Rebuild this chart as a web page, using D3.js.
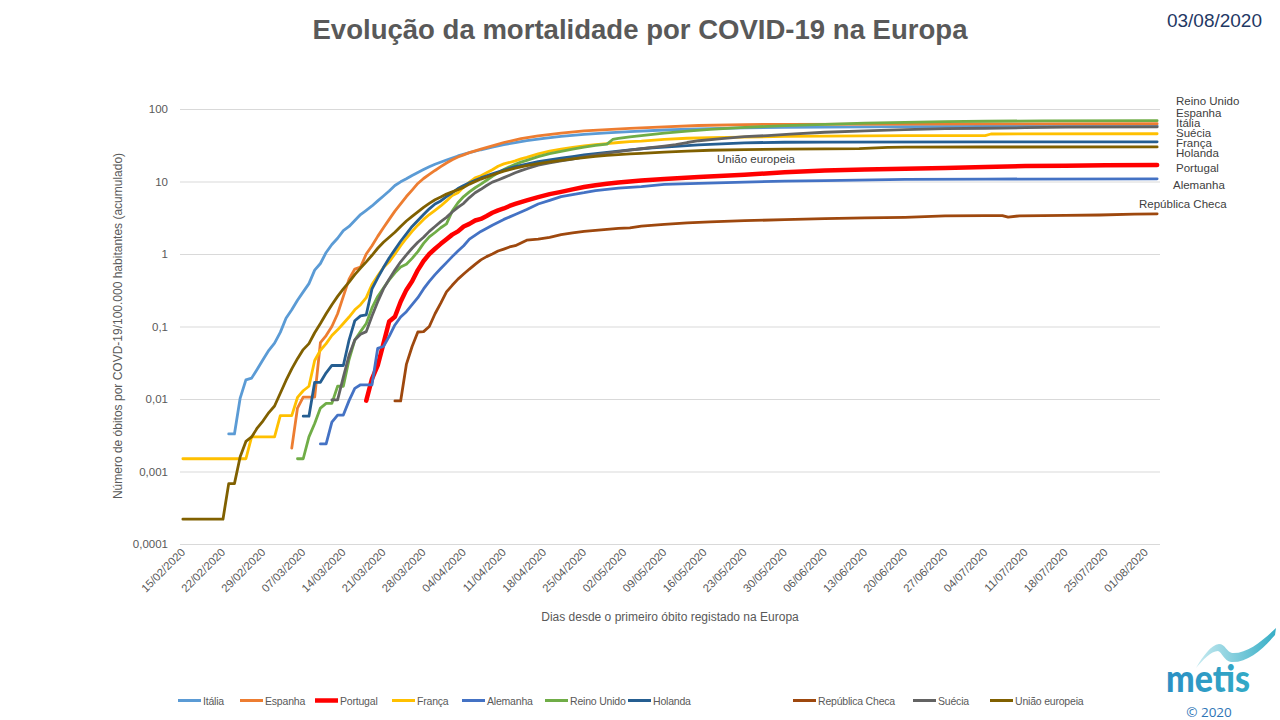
<!DOCTYPE html>
<html><head><meta charset="utf-8">
<script src="https://cdn.jsdelivr.net/npm/d3@7"></script>
<style>
html,body{margin:0;padding:0;background:#fff;}
svg{display:block;font-family:"Liberation Sans",Arial,sans-serif;}
</style></head><body>
<svg id="chart" width="1280" height="720"></svg>
<script>
// ---------- texts ----------
const title = "Evolução da mortalidade por COVID-19 na Europa";
const dateStamp = "03/08/2020";
const yTitle = "Número de óbitos por COVD-19/100.000 habitantes (acumulado)";
const xTitle = "Dias desde o primeiro óbito registado na Europa";
const euLabel = "União europeia";
const firstDay = "15/02/2020";
const lastDayIndex = 170;          // 03/08/2020
const xTickStep = 7;               // one label per week
const yTickValues = [0.0001, 0.001, 0.01, 0.1, 1, 10, 100];
const yTickLabels = ["0,0001", "0,001", "0,01", "0,1", "1", "10", "100"];
const seriesNames = ["Itália","Espanha","Portugal","França","Alemanha","Reino Unido","Holanda","República Checa","Suécia","União europeia"];
const endLabels = ["Reino Unido","Espanha","Itália","Suécia","França","Holanda","Portugal","Alemanha","República Checa"];

// ---------- data: [days since 15/02/2020, deaths per 100 000 inhabitants] ----------
const italia = [[8,0.0033],[9,0.0033],[10,0.0103],[11,0.0184],[12,0.0194],[13,0.026],[14,0.035],[15,0.047],[16,0.059],[17,0.083],[18,0.13],[19,0.17],[20,0.23],[21,0.30],[22,0.39],[23,0.6],[24,0.74],[25,1.05],[26,1.35],[27,1.65],[28,2.1],[29,2.4],[30,2.9],[31,3.5],[32,4.0],[33,4.6],[34,5.4],[35,6.3],[36,7.4],[37,8.8],[38,9.9],[39,10.9],[40,12.1],[41,13.3],[42,14.6],[43,16.0],[44,17.3],[46,19.8],[48,22.5],[50,25.0],[52,27.4],[54,29.7],[56,32.2],[58,34.3],[60,36.5],[63,39.4],[66,42],[70,44.8],[74,46.8],[78,48.6],[84,51.3],[90,53.3],[98,54.9],[105,55.8],[112,56.4],[126,57.2],[140,57.7],[154,58.1],[170,58.4]];
const espanha = [[19,0.0021],[20,0.0075],[21,0.0106],[22,0.0106],[23,0.0106],[24,0.06],[25,0.075],[26,0.1],[27,0.15],[28,0.26],[29,0.45],[30,0.62],[31,0.66],[32,1.0],[33,1.3],[34,1.75],[35,2.3],[36,3.0],[37,3.9],[38,4.9],[39,6.2],[40,7.6],[41,9.4],[42,11.0],[43,12.5],[44,14.2],[45,16.0],[46,18.0],[47,20.0],[48,21.8],[49,23.3],[50,25.0],[52,28.0],[54,31.0],[56,34.5],[59,39.0],[62,42.7],[66,46.5],[70,49.8],[74,52.0],[78,54.0],[84,56.8],[90,59.2],[98,61.0],[105,61.5],[126,61.8],[140,62.2],[170,62.6]];
const portugal = [[32,0.0095],[33,0.019],[34,0.029],[35,0.058],[36,0.117],[37,0.136],[38,0.22],[39,0.32],[40,0.42],[41,0.6],[42,0.8],[43,1.0],[44,1.18],[45,1.38],[46,1.6],[47,1.85],[48,2.05],[49,2.4],[50,2.6],[51,2.9],[52,3.05],[53,3.35],[54,3.7],[55,4.0],[56,4.25],[57,4.6],[58,4.9],[59,5.2],[60,5.5],[62,6.1],[64,6.7],[66,7.2],[68,7.8],[70,8.4],[72,8.9],[74,9.3],[76,9.7],[78,10.0],[80,10.3],[84,10.8],[90,11.5],[98,12.4],[105,13.4],[112,14.2],[119,14.6],[126,15.0],[133,15.3],[140,15.8],[147,16.3],[154,16.5],[161,16.7],[170,16.9]];
const franca = [[0,0.0015],[11,0.0015],[12,0.003],[16,0.003],[17,0.0059],[19,0.0059],[20,0.0105],[21,0.013],[22,0.015],[23,0.034],[24,0.047],[25,0.058],[26,0.075],[27,0.09],[28,0.11],[29,0.135],[30,0.17],[31,0.2],[32,0.25],[33,0.38],[34,0.5],[35,0.65],[36,0.78],[37,1.0],[38,1.3],[39,1.65],[40,2.05],[41,2.5],[42,3.0],[43,3.5],[44,4.0],[45,4.6],[46,5.4],[47,6.4],[48,7.0],[49,8.4],[50,9.8],[51,11.2],[52,12.0],[53,13.2],[54,14.5],[55,16.2],[56,17.5],[57,18.3],[58,19.3],[59,20.5],[60,21.5],[62,24.0],[64,26.2],[66,28.0],[68,29.6],[70,31.0],[72,32.2],[74,33.3],[76,34.5],[78,35.4],[80,36.0],[84,38.0],[88,39.5],[92,40.2],[98,41.0],[105,41.8],[112,42.2],[126,42.8],[140,43.0],[141,45.2],[170,45.6]];
const alemanha = [[24,0.0024],[25,0.0024],[26,0.0048],[27,0.006],[28,0.006],[29,0.0095],[30,0.014],[31,0.0157],[32,0.0157],[33,0.0157],[34,0.05],[35,0.053],[36,0.073],[37,0.105],[38,0.135],[39,0.16],[40,0.2],[41,0.25],[42,0.33],[43,0.42],[44,0.52],[45,0.63],[46,0.76],[47,0.92],[48,1.1],[49,1.3],[50,1.6],[52,2.05],[54,2.5],[56,3.0],[58,3.5],[60,4.1],[62,4.9],[64,5.5],[66,6.2],[68,6.6],[70,7.0],[72,7.5],[74,7.8],[76,8.1],[78,8.3],[80,8.5],[84,9.1],[90,9.4],[98,9.8],[105,10.1],[112,10.3],[126,10.7],[140,10.8],[170,10.9]];
const reinoUnido = [[20,0.0015],[21,0.0015],[22,0.003],[23,0.0046],[24,0.0075],[25,0.0087],[26,0.0087],[27,0.015],[28,0.015],[29,0.035],[30,0.065],[31,0.085],[32,0.11],[33,0.18],[34,0.26],[35,0.34],[36,0.44],[37,0.55],[38,0.66],[39,0.72],[40,0.87],[41,1.08],[42,1.4],[43,1.72],[44,1.98],[45,2.3],[46,2.6],[47,3.9],[48,5.1],[49,6.2],[50,7.2],[51,8.2],[52,9.2],[53,10.4],[54,11.8],[55,13.2],[56,14.6],[57,16.0],[58,17.2],[59,18.5],[60,19.6],[62,22.0],[64,24.2],[66,26.0],[68,28.0],[70,29.8],[72,31.5],[74,32.8],[75,38.0],[76,39.3],[78,41.3],[80,43.0],[84,46.5],[88,49.5],[92,52.5],[98,55.8],[105,59.0],[112,61.5],[119,63.8],[126,65.5],[133,67.0],[140,67.8],[150,68.6],[170,69.0]];
const holanda = [[21,0.0058],[22,0.0058],[23,0.017],[24,0.017],[25,0.023],[26,0.029],[27,0.029],[28,0.029],[29,0.065],[30,0.12],[31,0.14],[32,0.145],[33,0.33],[34,0.47],[35,0.65],[36,0.88],[37,1.15],[38,1.5],[39,1.9],[40,2.4],[41,2.9],[42,3.5],[43,4.2],[44,4.9],[45,5.4],[46,6.2],[47,7.0],[48,8.0],[49,8.8],[50,9.6],[51,10.4],[52,11.2],[54,12.8],[56,14.4],[58,16.0],[60,17.4],[62,18.8],[64,19.9],[66,21.0],[68,22.1],[70,23.2],[72,24.2],[74,25.2],[78,27.3],[82,29.2],[86,30.6],[90,32.0],[94,33.0],[98,34.2],[105,34.8],[112,35.0],[140,35.2],[170,35.3]];
const republicaCheca = [[37,0.0094],[38,0.0094],[39,0.03],[40,0.053],[41,0.084],[42,0.085],[43,0.1],[44,0.15],[45,0.21],[46,0.3],[47,0.37],[48,0.45],[49,0.53],[50,0.62],[51,0.72],[52,0.83],[53,0.92],[54,1.0],[55,1.1],[56,1.17],[57,1.25],[58,1.3],[59,1.42],[60,1.55],[61,1.58],[62,1.6],[64,1.7],[66,1.85],[68,1.95],[70,2.05],[72,2.12],[74,2.18],[76,2.25],[78,2.3],[80,2.42],[84,2.56],[88,2.68],[92,2.77],[98,2.88],[105,2.97],[112,3.08],[119,3.14],[126,3.2],[133,3.35],[140,3.38],[143,3.38],[144,3.22],[146,3.36],[154,3.4],[160,3.45],[166,3.55],[170,3.58]];
const suecia = [[26,0.0097],[27,0.0097],[28,0.02],[29,0.04],[30,0.065],[31,0.078],[32,0.085],[33,0.14],[34,0.22],[35,0.33],[36,0.45],[37,0.6],[38,0.78],[39,0.97],[40,1.2],[41,1.45],[42,1.7],[43,2.05],[44,2.4],[45,2.8],[46,3.2],[47,3.8],[48,4.4],[49,5.0],[50,6.0],[51,7.0],[52,7.8],[53,8.8],[54,9.8],[55,10.5],[56,11.3],[57,12.2],[58,13.2],[59,14.1],[60,15.0],[62,16.8],[64,18.0],[66,19.2],[68,20.4],[70,21.8],[72,23.2],[74,24.6],[76,25.8],[78,27.0],[80,28.3],[82,29.6],[84,30.8],[86,32.3],[88,34.5],[90,36.5],[94,39.0],[98,41.5],[102,43.0],[106,45.0],[112,47.8],[119,50.0],[126,52.0],[133,53.5],[140,54.3],[147,55.2],[154,56.3],[170,56.6]];
const uniaoEuropeia = [[0,0.00022],[7,0.00022],[8,0.00068],[9,0.00068],[10,0.0016],[11,0.0026],[12,0.003],[13,0.004],[14,0.005],[15,0.0065],[16,0.008],[17,0.012],[18,0.018],[19,0.026],[20,0.036],[21,0.048],[22,0.058],[23,0.082],[24,0.11],[25,0.15],[26,0.2],[27,0.26],[28,0.33],[29,0.41],[30,0.52],[31,0.64],[32,0.78],[33,0.96],[34,1.2],[35,1.45],[36,1.7],[37,2.0],[38,2.4],[39,2.85],[40,3.3],[41,3.8],[42,4.4],[43,5.0],[44,5.6],[45,6.1],[46,6.7],[47,7.2],[48,7.7],[49,8.3],[50,9.2],[52,10.8],[54,12.3],[56,13.9],[58,15.3],[60,16.5],[62,17.7],[64,18.7],[66,19.6],[68,20.5],[70,21.4],[72,22.2],[74,22.9],[76,23.5],[78,24.0],[80,24.4],[84,25.4],[88,26.3],[92,27.0],[98,27.6],[105,27.9],[112,28.2],[118,28.4],[123,29.6],[126,29.8],[140,29.9],[170,30.0]];

const seriesValues = [italia, espanha, portugal, franca, alemanha, reinoUnido, holanda, republicaCheca, suecia, uniaoEuropeia];

// ---------- styles ----------
const colors = ["#5B9BD5","#ED7D31","#FF0000","#FFC000","#4472C4","#70AD47","#255E91","#9E480E","#636363","#806000"];
const widths = [2.8,2.8,4.5,2.8,2.8,2.8,2.8,2.8,2.8,2.8];
const textGray = "#595959";

// ---------- layout ----------
const plot = {left: 180, right: 1160, top: 109, bottom: 544};
const svg = d3.select("#chart");
const parse = d3.utcParse("%d/%m/%Y");
const start = parse(firstDay);
const dayMs = 864e5;
const toDate = k => d3.utcDay.offset(start, k);

const x = d3.scaleUtc()
  .domain([new Date(start.getTime() - 0.5 * dayMs), new Date(start.getTime() + (lastDayIndex + 0.5) * dayMs)])
  .range([plot.left, plot.right]);
const y = d3.scaleLog().domain([0.0001, 100]).range([plot.bottom, plot.top]);

// title + date
svg.append("text").attr("x", 640).attr("y", 39).attr("text-anchor", "middle")
  .attr("font-size", 28).attr("font-weight", "bold").attr("fill", textGray)
  .attr("textLength", 655).attr("lengthAdjust", "spacingAndGlyphs").text(title);
svg.append("text").attr("x", 1262).attr("y", 27).attr("text-anchor", "end")
  .attr("font-size", 19).attr("fill", "#1F3864").text(dateStamp);

// grid + y labels
const yAxis = d3.axisLeft(y).tickValues(yTickValues)
  .tickFormat((d, i) => yTickLabels[i]).tickSize(-(plot.right - plot.left)).tickPadding(12);
const gy = svg.append("g").attr("transform", `translate(${plot.left},0)`).call(yAxis);
gy.select(".domain").remove();
gy.selectAll(".tick line").attr("stroke", "#D9D9D9").attr("stroke-width", 1);
gy.selectAll(".tick text").attr("fill", textGray).attr("font-size", 11.5)
  .attr("font-family", "Liberation Sans, Arial, sans-serif");

// x labels
const xTicks = d3.range(0, lastDayIndex - 1, xTickStep).map(toDate);
const fmt = d3.utcFormat("%d/%m/%Y");
svg.append("g").selectAll("text").data(xTicks).join("text")
  .attr("transform", d => `translate(${x(d) + 3},${plot.bottom + 9}) rotate(-45)`)
  .attr("text-anchor", "end").attr("font-size", 11.3).attr("fill", textGray)
  .text(d => fmt(d));

// axis titles
svg.append("text").attr("transform", "translate(122,326) rotate(-90)")
  .attr("text-anchor", "middle").attr("font-size", 12).attr("fill", textGray).text(yTitle);
svg.append("text").attr("x", 670).attr("y", 621).attr("text-anchor", "middle")
  .attr("font-size", 12).attr("fill", textGray).text(xTitle);

// lines
const line = d3.line().x(d => x(toDate(d[0]))).y(d => y(d[1]));
svg.append("g").selectAll("path").data(seriesValues).join("path")
  .attr("d", line).attr("fill", "none")
  .attr("stroke", (d, i) => colors[i]).attr("stroke-width", (d, i) => widths[i])
  .attr("stroke-linejoin", "round").attr("stroke-linecap", "round");

// end labels (Excel data labels, collision-shifted)
const endLabelY = [101, 113, 123, 133, 143, 153, 168, 185, 204];
const endLabelX = [1176, 1176, 1176, 1176, 1176, 1176, 1176, 1173, 1139];
svg.append("g").selectAll("text").data(endLabels).join("text")
  .attr("x", (d, i) => endLabelX[i]).attr("y", (d, i) => endLabelY[i] + 4)
  .attr("font-size", 11.5).attr("fill", "#404040").text(d => d);
svg.append("text").attr("x", 717).attr("y", 163).attr("font-size", 11.5)
  .attr("fill", "#404040").text(euLabel);

// legend
const legendX = [178, 240, 315, 392, 462, 545, 628, 793, 913, 990];
const lg = svg.append("g").selectAll("g").data(seriesNames).join("g")
  .attr("transform", (d, i) => `translate(${legendX[i]},700.5)`);
lg.append("line").attr("x1", 0).attr("x2", 23).attr("y1", 0).attr("y2", 0)
  .attr("stroke", (d, i) => colors[i]).attr("stroke-width", (d, i) => widths[i] === 4.5 ? 4.5 : 3);
lg.append("text").attr("x", 25).attr("y", 4).attr("font-size", 10.5).attr("letter-spacing", -0.2)
  .attr("fill", textGray).text(d => d);

// logo
const defs = svg.append("defs");
const grad = defs.append("linearGradient").attr("id", "wave").attr("x1", "0").attr("x2", "1");
grad.append("stop").attr("offset", "0").attr("stop-color", "#c9ebf1");
grad.append("stop").attr("offset", "1").attr("stop-color", "#36aec6");
const grad2 = defs.append("linearGradient").attr("id", "metis").attr("x1", "0").attr("x2", "1");
grad2.append("stop").attr("offset", "0").attr("stop-color", "#2b8fc4");
grad2.append("stop").attr("offset", "1").attr("stop-color", "#33aac6");
svg.append("path").attr("fill", "url(#wave)")
  .attr("d", "M1196,668 C1203,656 1211,645 1219,644 C1225,644 1227,652 1232,653 C1247,654 1262,641 1276,628 L1275,635 C1262,650 1247,663 1231,662 C1224,661 1222,652 1218,651 C1211,651 1203,660 1196,668 Z");
svg.append("text").attr("x", 1166).attr("y", 692).attr("font-size", 38).attr("font-weight", 900)
  .attr("font-family", "Lato, sans-serif").attr("fill", "url(#metis)")
  .attr("textLength", 84).attr("lengthAdjust", "spacingAndGlyphs").text("metis");
svg.append("text").attr("x", 1209).attr("y", 717).attr("text-anchor", "middle").attr("font-size", 13.5)
  .attr("fill", "#2E75B6").attr("font-family", "Open Sans, sans-serif").text("© 2020");
</script>
</body></html>
